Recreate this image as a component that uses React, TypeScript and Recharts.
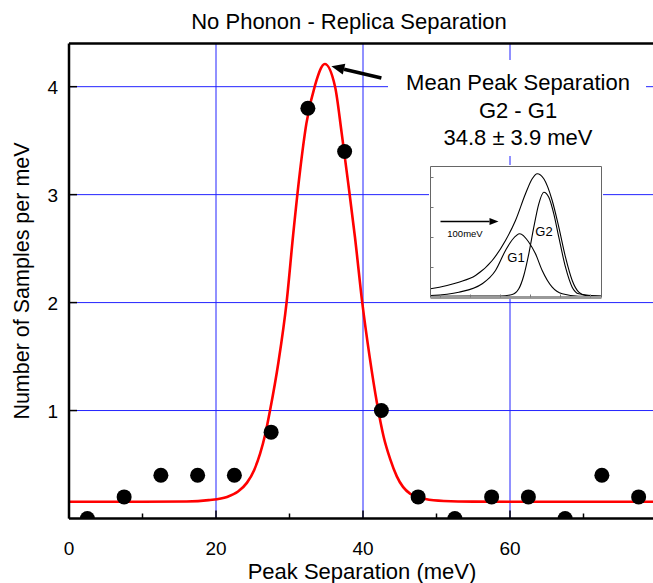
import {
  ComposedChart,
  LineChart,
  Line,
  Scatter,
  XAxis,
  YAxis,
  CartesianGrid,
  ReferenceLine,
} from "recharts";

const FONT = "'Liberation Sans', Arial, sans-serif";
const GRID_BLUE = "#2323ff";

// histogram of peak separations (bin centres, samples per meV)
const BIN_CENTERS = [2.5, 7.5, 12.5, 17.5, 22.5, 27.5, 32.5, 37.5, 42.5, 47.5, 52.5, 57.5, 62.5, 67.5, 72.5, 77.5];
const COUNTS = [0, 0.2, 0.4, 0.4, 0.4, 0.8, 3.8, 3.4, 1.0, 0.2, 0, 0.2, 0.2, 0, 0.4, 0.2];

// red fit curve
const FIT_X = [0, 10, 16, 19, 21.5, 23, 24.2, 25.2, 26.0, 26.7, 27.35, 28.5, 29.6, 30.5, 31.4, 32.3, 33.5, 34.8, 36.2, 37.1, 38.0, 38.9, 39.9, 40.9, 41.9, 42.8, 43.7, 44.6, 46.4, 48.5, 51, 55, 65, 80];
const FIT_Y = [0.155, 0.155, 0.157, 0.17, 0.2, 0.25, 0.33, 0.45, 0.6, 0.78, 1.0, 1.45, 2.0, 2.63, 3.2, 3.66, 4.02, 4.21, 4.0, 3.57, 3.1, 2.61, 2.0, 1.5, 1.07, 0.76, 0.55, 0.39, 0.23, 0.18, 0.162, 0.156, 0.155, 0.155];

const X_TICKS = [0, 10, 20, 30, 40, 50, 60, 70];
const X_LABELED = [0, 20, 40, 60];
const Y_TICKS = [1, 2, 3, 4];
const GRID_X = [20, 40, 60];
const GRID_Y = [1, 2, 3, 4];

// inset spectrum (arbitrary units)
const TOTAL_X = [0, 28.3, 45, 61.7, 75, 85, 95, 101.7, 106.7, 113.3, 121.7, 128.3, 135, 141.7, 148.3, 155, 171];
const TOTAL_Y = [8.7, 15.3, 22, 37, 57, 77, 103.7, 118.7, 123.7, 118.7, 97, 70.3, 40.3, 17, 5.3, 2, 1.3];
const G1_X = [0, 28.3, 51.7, 65, 75, 82, 89.3, 98.3, 105, 111.7, 121.7, 131.7, 148.3, 171];
const G1_Y = [2, 5.3, 13.7, 27, 47, 58, 63.7, 55.3, 43.7, 27, 10.3, 3.7, 1.3, 1.3];
const G2_X = [0, 70, 81.7, 88.3, 93.3, 98.3, 103.3, 108.3, 113.3, 118.3, 123.3, 128.3, 135, 141.7, 148.3, 171];
const G2_Y = [1.3, 1.5, 3, 8.7, 22, 43.7, 70.3, 93.7, 105.3, 100.3, 83.7, 60.3, 30.3, 10.3, 3.7, 1.3];
const INSET_TICKS_X = [10, 20, 30, 40, 50, 60, 70, 80, 90, 100, 110, 120, 130, 140, 150, 160];
const INSET_TICKS_Y = [10, 20, 30, 40, 50, 60, 70, 80, 90, 100, 110, 120];

const points = BIN_CENTERS.map((x, i) => ({ x, y: COUNTS[i] }));
const fit = FIT_X.map((x, i) => ({ x, y: FIT_Y[i] }));
const total = TOTAL_X.map((x, i) => ({ x, y: TOTAL_Y[i] }));
const g1 = G1_X.map((x, i) => ({ x, y: G1_Y[i] }));
const g2 = G2_X.map((x, i) => ({ x, y: G2_Y[i] }));

function arrowShape(width: number, head: number, half: number) {
  return (p: any) => {
    const { x1, y1, x2, y2 } = p;
    const dx = x2 - x1;
    const dy = y2 - y1;
    const len = Math.hypot(dx, dy) || 1;
    const ux = dx / len;
    const uy = dy / len;
    const bx = x2 - ux * head;
    const by = y2 - uy * head;
    return (
      <g>
        <line x1={x1} y1={y1} x2={bx} y2={by} stroke="#000" strokeWidth={width} />
        <polygon
          points={`${x2},${y2} ${bx - uy * half},${by + ux * half} ${bx + uy * half},${by - ux * half}`}
          fill="#000"
        />
      </g>
    );
  };
}

const BottomTick = (props: any) => {
  const { x, y, payload } = props;
  const major = X_LABELED.includes(payload.value);
  return (
    <g>
      <line x1={x} x2={x} y1={y} y2={y - (major ? 8 : 5)} stroke="#000" strokeWidth={1.5} />
      {major && (
        <text x={x} y={y + 36} textAnchor="middle" fontSize={19} fontFamily={FONT} fill="#000">
          {payload.value}
        </text>
      )}
    </g>
  );
};

const TopTick = (props: any) => {
  const { x, y, payload } = props;
  const major = X_LABELED.includes(payload.value);
  return <line x1={x} x2={x} y1={y} y2={y + (major ? 8 : 5)} stroke="#000" strokeWidth={1.5} />;
};

const LeftTick = (props: any) => {
  const { x, y, payload } = props;
  return (
    <g>
      <line x1={x} x2={x + 8} y1={y} y2={y} stroke="#000" strokeWidth={1.5} />
      <text x={x - 11} y={y + 7} textAnchor="end" fontSize={19} fontFamily={FONT} fill="#000">
        {payload.value}
      </text>
    </g>
  );
};

const insetTick = (side: "top" | "bottom" | "left" | "right") => (props: any) => {
  const { x, y } = props;
  const d = 3;
  if (side === "top") return <line x1={x} x2={x} y1={y} y2={y + d} stroke="#777" />;
  if (side === "bottom") return <line x1={x} x2={x} y1={y} y2={y - d} stroke="#777" />;
  if (side === "left") return <line x1={x} x2={x + d} y1={y} y2={y} stroke="#777" />;
  return <line x1={x} x2={x - d} y1={y} y2={y} stroke="#777" />;
};

export default function App() {
  return (
    <div
      style={{
        position: "absolute",
        left: 0,
        top: 0,
        width: 653,
        height: 583,
        overflow: "hidden",
        background: "#fff",
        fontFamily: FONT,
      }}
    >
      <ComposedChart width={700} height={583} margin={{ top: 42.5, right: 43, bottom: 0, left: 0 }}>
        <CartesianGrid
          stroke={GRID_BLUE}
          strokeWidth={1}
          verticalValues={GRID_X}
          horizontalValues={GRID_Y}
        />
        <XAxis
          type="number"
          dataKey="x"
          domain={[0, 80]}
          ticks={X_TICKS}
          allowDataOverflow
          height={64.5}
          tickSize={0}
          tickMargin={0}
          tickLine={false}
          tick={<BottomTick />}
          axisLine={{ stroke: "#000", strokeWidth: 2.5 }}
        />
        <XAxis
          xAxisId="top"
          orientation="top"
          type="number"
          dataKey="x"
          domain={[0, 80]}
          ticks={X_TICKS}
          height={1}
          tickSize={0}
          tickMargin={0}
          tickLine={false}
          tick={<TopTick />}
          axisLine={{ stroke: "#000", strokeWidth: 2.5 }}
        />
        <YAxis
          type="number"
          dataKey="y"
          domain={[0, 4.4]}
          ticks={Y_TICKS}
          allowDataOverflow
          width={69}
          tickSize={0}
          tickMargin={0}
          tickLine={false}
          tick={<LeftTick />}
          axisLine={{ stroke: "#000", strokeWidth: 2.5 }}
        />
        <Line
          data={fit}
          dataKey="y"
          type="monotone"
          stroke="#ff0000"
          strokeWidth={2.6}
          dot={false}
          activeDot={false}
          isAnimationActive={false}
        />
        <Scatter
          data={points}
          dataKey="y"
          fill="#000"
          isAnimationActive={false}
          shape={(p: any) => <circle cx={p.cx} cy={p.cy} r={7.5} fill="#000" />}
        />
        <ReferenceLine
          segment={[
            { x: 42.5, y: 4.08 },
            { x: 35.7, y: 4.19 },
          ]}
          shape={arrowShape(3.5, 13, 5.5)}
        />
      </ComposedChart>

      <svg
        width={653}
        height={583}
        style={{ position: "absolute", left: 0, top: 0, pointerEvents: "none" }}
        fontFamily={FONT}
      >
        <text x={349} y={29} textAnchor="middle" fontSize={22} fill="#000">
          No Phonon - Replica Separation
        </text>
        <text x={362} y={579} textAnchor="middle" fontSize={22} fill="#000">
          Peak Separation (meV)
        </text>
        <text x={29} y={281} textAnchor="middle" fontSize={21.5} fill="#000" transform="rotate(-90 29 281)">
          Number of Samples per meV
        </text>
        <rect x={388} y={60} width={258} height={96} fill="#fff" />
        <text x={518} y={90} textAnchor="middle" fontSize={22} fill="#000">
          Mean Peak Separation
        </text>
        <text x={518} y={118} textAnchor="middle" fontSize={22} fill="#000">
          G2 - G1
        </text>
        <text x={518} y={145} textAnchor="middle" fontSize={22} fill="#000">
          34.8 ± 3.9 meV
        </text>
      </svg>

      <div
        style={{
          position: "absolute",
          left: 429,
          top: 165,
          width: 174,
          height: 134,
          background: "#fff",
        }}
      >
        <LineChart width={174} height={134} margin={{ top: 0.5, right: 0.5, bottom: 0.5, left: 0.5 }}>
          <XAxis
            type="number"
            dataKey="x"
            domain={[0, 171]}
            ticks={INSET_TICKS_X}
            height={1}
            tickSize={0}
            tickMargin={0}
            tickLine={false}
            tick={insetTick("bottom")}
            axisLine={{ stroke: "#999", strokeWidth: 3 }}
          />
          <XAxis
            xAxisId="t"
            orientation="top"
            type="number"
            dataKey="x"
            domain={[0, 171]}
            ticks={INSET_TICKS_X}
            height={1}
            tickSize={0}
            tickMargin={0}
            tickLine={false}
            tick={insetTick("top")}
            axisLine={{ stroke: "#666" }}
          />
          <YAxis
            type="number"
            dataKey="y"
            domain={[0, 131]}
            ticks={INSET_TICKS_Y}
            width={1}
            tickSize={0}
            tickMargin={0}
            tickLine={false}
            tick={insetTick("left")}
            axisLine={{ stroke: "#666" }}
          />
          <YAxis
            yAxisId="r"
            orientation="right"
            type="number"
            dataKey="y"
            domain={[0, 131]}
            ticks={INSET_TICKS_Y}
            width={1}
            tickSize={0}
            tickMargin={0}
            tickLine={false}
            tick={insetTick("right")}
            axisLine={{ stroke: "#666" }}
          />
          <Line data={total} dataKey="y" type="monotone" stroke="#000" strokeWidth={1.1} dot={false} activeDot={false} isAnimationActive={false} />
          <Line data={g1} dataKey="y" type="monotone" stroke="#000" strokeWidth={1.1} dot={false} activeDot={false} isAnimationActive={false} />
          <Line data={g2} dataKey="y" type="monotone" stroke="#000" strokeWidth={1.1} dot={false} activeDot={false} isAnimationActive={false} />
          <ReferenceLine
            segment={[
              { x: 10, y: 76 },
              { x: 68, y: 76 },
            ]}
            shape={arrowShape(1.5, 9, 3.5)}
          />
        </LineChart>
        <svg
          width={174}
          height={134}
          style={{ position: "absolute", left: 0, top: 0, pointerEvents: "none" }}
          fontFamily={FONT}
        >
          <text x={36} y={72} textAnchor="middle" fontSize={9.5} fill="#000">
            100meV
          </text>
          <text x={87} y={97} textAnchor="middle" fontSize={13} fill="#000">
            G1
          </text>
          <text x={115} y={71} textAnchor="middle" fontSize={13} fill="#000">
            G2
          </text>
        </svg>
      </div>
    </div>
  );
}
